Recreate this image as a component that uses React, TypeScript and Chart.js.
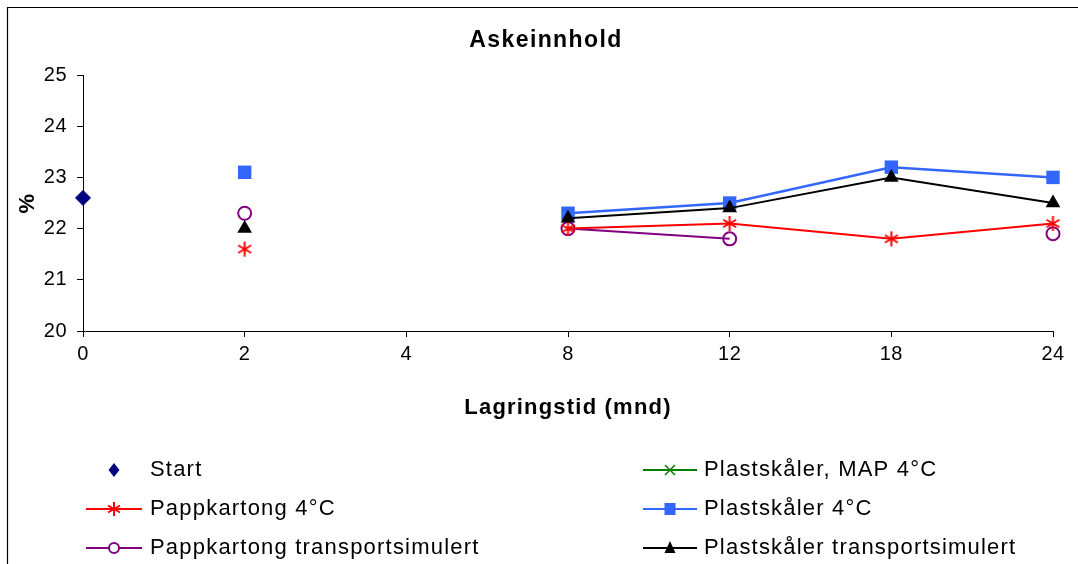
import React, { useEffect, useRef } from "react";
import { Chart, registerables } from "chart.js";

Chart.register(...registerables);

const categories = ["0", "2", "4", "8", "12", "18", "24"];
const startValues = [22.6, null, null, null, null, null, null];
const pappkartong4 = [null, 21.6, null, 22.0, 22.1, 21.8, 22.1];
const pappkartongTransport = [null, 22.3, null, 22.0, 21.8, null, 21.9];
const plastMap4 = [null, null, null, null, null, null, null];
const plast4 = [null, 23.1, null, 22.3, 22.5, 23.2, 23.0];
const plastTransport = [null, 22.0, null, 22.2, 22.4, 23.0, 22.5];

const yTicks = [20, 21, 22, 23, 24, 25];

const titleText = "Askeinnhold";
const xTitleText = "Lagringstid (mnd)";
const yTitleText = "%";

const FONT = "'Liberation Sans', Arial, sans-serif";
const SPACING = "0.5px";

function makeStar(size: number, color: string, lw: number) {
  const c = document.createElement("canvas");
  c.width = size;
  c.height = size;
  const g = c.getContext("2d")!;
  const m = size / 2;
  const r = size / 2 - 1;
  g.strokeStyle = color;
  g.lineWidth = lw;
  g.beginPath();
  g.moveTo(m, m - r);
  g.lineTo(m, m + r);
  const dx = r * Math.cos(Math.PI / 6);
  const dy = r * Math.sin(Math.PI / 6);
  g.moveTo(m - dx, m - dy);
  g.lineTo(m + dx, m + dy);
  g.moveTo(m - dx, m + dy);
  g.lineTo(m + dx, m - dy);
  g.stroke();
  return c;
}

type LegendItem = {
  label: string;
  color: string;
  line: boolean;
  marker: string;
};

const legendItems: LegendItem[] = [
  { label: "Start", color: "#000080", line: false, marker: "diamond" },
  { label: "Plastskåler, MAP 4°C", color: "#008000", line: true, marker: "x" },
  { label: "Pappkartong 4°C", color: "#FF0000", line: true, marker: "star" },
  { label: "Plastskåler 4°C", color: "#3366FF", line: true, marker: "square" },
  { label: "Pappkartong transportsimulert", color: "#800080", line: true, marker: "circle" },
  { label: "Plastskåler transportsimulert", color: "#000000", line: true, marker: "triangle" },
];

function drawLegendMarker(ctx: CanvasRenderingContext2D, kind: string, x: number, y: number, color: string) {
  ctx.save();
  ctx.fillStyle = color;
  ctx.strokeStyle = color;
  ctx.lineWidth = 1.5;
  ctx.beginPath();
  if (kind === "diamond") {
    ctx.moveTo(x, y - 7);
    ctx.lineTo(x + 5.5, y);
    ctx.lineTo(x, y + 7);
    ctx.lineTo(x - 5.5, y);
    ctx.closePath();
    ctx.fill();
  } else if (kind === "x") {
    ctx.moveTo(x - 5, y - 5);
    ctx.lineTo(x + 5, y + 5);
    ctx.moveTo(x - 5, y + 5);
    ctx.lineTo(x + 5, y - 5);
    ctx.stroke();
  } else if (kind === "star") {
    ctx.lineWidth = 2;
    ctx.moveTo(x, y - 7);
    ctx.lineTo(x, y + 7);
    ctx.moveTo(x - 6, y - 3.5);
    ctx.lineTo(x + 6, y + 3.5);
    ctx.moveTo(x - 6, y + 3.5);
    ctx.lineTo(x + 6, y - 3.5);
    ctx.stroke();
  } else if (kind === "square") {
    ctx.fillRect(x - 5.5, y - 6, 11, 12);
  } else if (kind === "circle") {
    ctx.fillStyle = "#fff";
    ctx.arc(x, y, 5, 0, Math.PI * 2);
    ctx.fill();
    ctx.lineWidth = 2;
    ctx.stroke();
  } else if (kind === "triangle") {
    ctx.moveTo(x, y - 7);
    ctx.lineTo(x + 5.5, y + 5);
    ctx.lineTo(x - 5.5, y + 5);
    ctx.closePath();
    ctx.fill();
  }
  ctx.restore();
}

const customPlugin = {
  id: "customDecor",
  beforeUpdate(chart: any) {
    chart.ctx.letterSpacing = SPACING;
  },
  beforeDraw(chart: any) {
    const ctx = chart.ctx as CanvasRenderingContext2D;
    (ctx as any).letterSpacing = SPACING;
    ctx.save();
    ctx.fillStyle = "#fff";
    ctx.fillRect(0, 0, chart.width, chart.height);
    ctx.restore();
  },
  afterDraw(chart: any) {
    const ctx = chart.ctx as CanvasRenderingContext2D;
    ctx.save();
    // frame
    ctx.strokeStyle = "#000";
    ctx.lineWidth = 1.2;
    ctx.beginPath();
    ctx.moveTo(7.5, chart.height);
    ctx.lineTo(7.5, 7.5);
    ctx.lineTo(chart.width, 7.5);
    ctx.stroke();

    ctx.fillStyle = "#000";
    ctx.textBaseline = "middle";
    ctx.textAlign = "center";
    (ctx as any).letterSpacing = "1.4px";
    ctx.font = `bold 23px ${FONT}`;
    ctx.fillText(titleText, 546, 41);

    (ctx as any).letterSpacing = "1.2px";
    ctx.font = `bold 22px ${FONT}`;
    const area = chart.chartArea;
    ctx.fillText(xTitleText, (area.left + area.right) / 2, 408);

    ctx.save();
    ctx.translate(28, (area.top + area.bottom) / 2);
    ctx.rotate(-Math.PI / 2);
    ctx.fillText(yTitleText, 0, 0);
    ctx.restore();

    // legend
    const cols = [
      { lineX0: 86, lineX1: 142, textX: 150 },
      { lineX0: 643, lineX1: 697, textX: 704 },
    ];
    const rows = [470, 509, 548];
    (ctx as any).letterSpacing = "1.2px";
    ctx.font = `22px ${FONT}`;
    ctx.textAlign = "left";
    legendItems.forEach((it, i) => {
      const col = cols[i % 2];
      const y = rows[Math.floor(i / 2)];
      const mx = (col.lineX0 + col.lineX1) / 2;
      if (it.line) {
        ctx.save();
        ctx.strokeStyle = it.color;
        ctx.lineWidth = 2;
        ctx.beginPath();
        ctx.moveTo(col.lineX0, y);
        ctx.lineTo(col.lineX1, y);
        ctx.stroke();
        ctx.restore();
      }
      drawLegendMarker(ctx, it.marker, mx, y, it.color);
      ctx.fillStyle = "#000";
      ctx.fillText(it.label, col.textX, y);
    });
    ctx.restore();
  },
};

export default function App() {
  const ref = useRef<HTMLCanvasElement | null>(null);

  useEffect(() => {
    if (!ref.current) return;
    const star = makeStar(17, "#FF0000", 2);
    const chart = new Chart(ref.current, {
      type: "line",
      data: {
        labels: categories,
        datasets: [
          {
            label: "Start",
            data: startValues,
            showLine: false,
            borderColor: "#000080",
            backgroundColor: "#000080",
            pointBackgroundColor: "#000080",
            pointBorderColor: "#000080",
            pointStyle: "rectRot",
            pointRadius: 7.5,
            pointBorderWidth: 1,
            clip: false,
            order: 5,
          },
          {
            label: "Pappkartong 4°C",
            data: pappkartong4,
            borderColor: "#FF0000",
            borderWidth: 2,
            pointStyle: star as any,
            pointRadius: 8,
            clip: false,
            order: 3,
          },
          {
            label: "Pappkartong transportsimulert",
            data: pappkartongTransport,
            borderColor: "#800080",
            borderWidth: 2,
            pointStyle: "circle",
            pointRadius: 6.5,
            pointBorderWidth: 2,
            pointBorderColor: "#800080",
            pointBackgroundColor: "rgba(0,0,0,0)",
            clip: false,
            order: 4,
          },
          {
            label: "Plastskåler, MAP 4°C",
            data: plastMap4,
            borderColor: "#008000",
            borderWidth: 2,
            pointStyle: "crossRot",
            pointRadius: 6,
            clip: false,
            order: 2,
          },
          {
            label: "Plastskåler 4°C",
            data: plast4,
            borderColor: "#3366FF",
            borderWidth: 2.5,
            pointStyle: "rect",
            pointRadius: 9.5,
            pointBorderWidth: 0,
            pointBackgroundColor: "#3366FF",
            pointBorderColor: "#3366FF",
            clip: false,
            order: 1,
          },
          {
            label: "Plastskåler transportsimulert",
            data: plastTransport,
            borderColor: "#000000",
            borderWidth: 2,
            pointStyle: "triangle",
            pointRadius: 8.5,
            pointBorderWidth: 0,
            pointBackgroundColor: "#000000",
            pointBorderColor: "#000000",
            clip: false,
            order: 0,
          },
        ],
      },
      options: {
        responsive: false,
        animation: false,
        devicePixelRatio: 1,
        spanGaps: false,
        layout: { padding: { top: 75, left: 0, right: 25, bottom: 0 } },
        plugins: {
          legend: { display: false },
          title: { display: false },
          tooltip: { enabled: false },
        },
        scales: {
          x: {
            type: "category",
            offset: false,
            grid: {
              drawOnChartArea: false,
              drawTicks: true,
              tickLength: 6,
              color: "#000",
            },
            border: { display: true, color: "#000", width: 1 },
            ticks: {
              color: "#000",
              font: { family: FONT, size: 20 },
              padding: 5,
              maxRotation: 0,
              autoSkip: false,
            },
            afterFit: (scale: any) => {
              scale.height = 564 - 331;
            },
          },
          y: {
            min: 20,
            max: 25,
            afterBuildTicks: (scale: any) => {
              scale.ticks = yTicks.map((v) => ({ value: v }));
            },
            grid: {
              drawOnChartArea: false,
              drawTicks: true,
              tickLength: 6,
              color: "#000",
            },
            border: { display: true, color: "#000", width: 1 },
            ticks: {
              color: "#000",
              font: { family: FONT, size: 20 },
              padding: 10,
            },
            afterFit: (scale: any) => {
              scale.width = 83;
            },
          },
        },
      },
      plugins: [customPlugin],
    });
    return () => chart.destroy();
  }, []);

  return (
    <div style={{ position: "absolute", left: 0, top: 0, width: 1078, height: 564, background: "#fff" }}>
      <canvas ref={ref} width={1078} height={564} style={{ display: "block" }} />
    </div>
  );
}
